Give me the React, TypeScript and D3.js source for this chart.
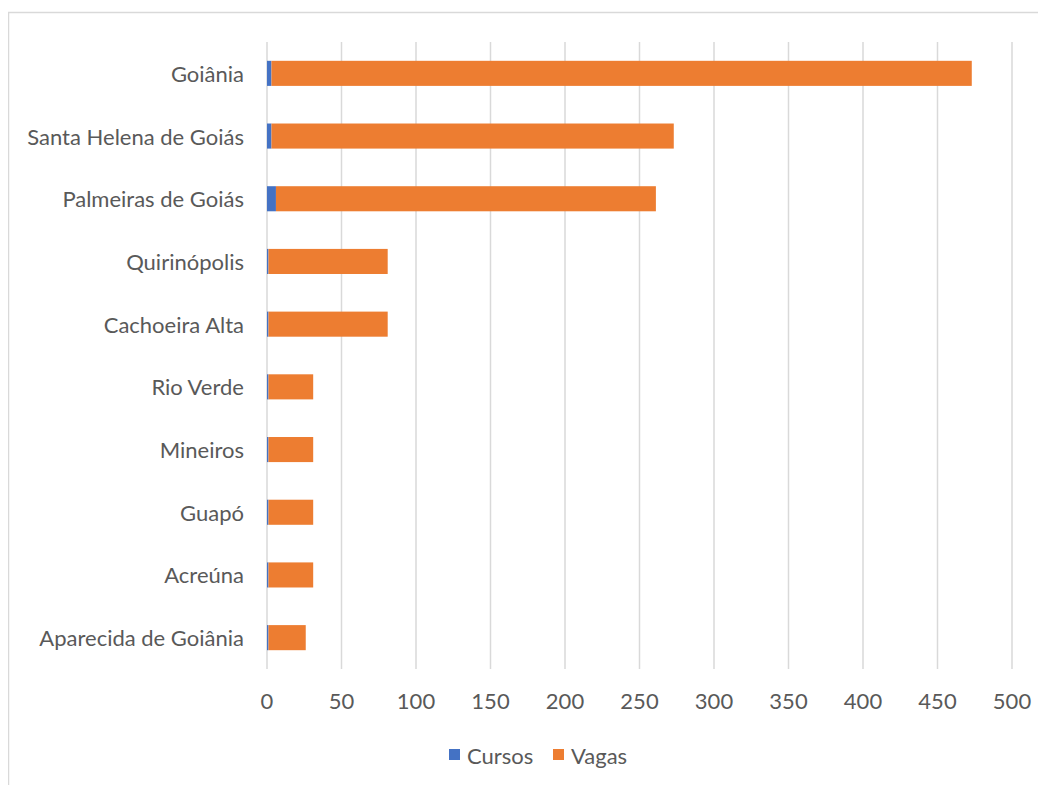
import React from "react";
import * as d3 from "d3";

const categories = [
  "Goiânia",
  "Santa Helena de Goiás",
  "Palmeiras de Goiás",
  "Quirinópolis",
  "Cachoeira Alta",
  "Rio Verde",
  "Mineiros",
  "Guapó",
  "Acreúna",
  "Aparecida de Goiânia",
];
const cursos = [3, 3, 6, 1, 1, 1, 1, 1, 1, 1];
const vagas = [470, 270, 255, 80, 80, 30, 30, 30, 30, 25];
const xTicks = [0, 50, 100, 150, 200, 250, 300, 350, 400, 450, 500];
const seriesNames = ["Cursos", "Vagas"];
const colors = ["#4472C4", "#ED7D31"];

const FONT = "Lato, 'Open Sans', sans-serif";
const FS = 22;

export default function App() {
  const W = 1038;
  const H = 777;
  const left = 259;
  const right = 1004;
  const top = 34;
  const bottom = 661;

  const x = d3.scaleLinear().domain([0, 500]).range([left, right]);
  const y = d3
    .scaleBand<string>()
    .domain(categories)
    .range([top, bottom])
    .paddingInner(0.6)
    .paddingOuter(0.3);

  const stackData = categories.map((c, i) => ({ cat: c, Cursos: cursos[i], Vagas: vagas[i] }));
  const stack = d3.stack<any>().keys(seriesNames)(stackData);

  return (
    <svg width={W} height={H} style={{ display: "block" }} fontFamily={FONT}>
      <rect x={0.5} y={4.5} width={W + 10} height={H + 10} fill="#fff" stroke="#d9d9d9" strokeWidth={1.5} />
      {xTicks.map((t) => (
        <line key={t} x1={x(t)} x2={x(t)} y1={top} y2={bottom} stroke="#d9d9d9" strokeWidth={1.5} />
      ))}
      {stack.map((s, si) =>
        s.map((d, i) => (
          <rect
            key={si + "-" + i}
            x={x(d[0])}
            y={y(categories[i])}
            width={x(d[1]) - x(d[0])}
            height={y.bandwidth()}
            fill={colors[si]}
          />
        ))
      )}
      {categories.map((c) => (
        <text
          key={c}
          x={236}
          y={(y(c) as number) + y.bandwidth() / 2}
          textAnchor="end"
          dominantBaseline="central"
          fontSize={FS}
          fill="#595959"
        >
          {c}
        </text>
      ))}
      {xTicks.map((t) => (
        <text key={t} x={x(t)} y={692} textAnchor="middle" dominantBaseline="central" fontSize={FS} fill="#595959">
          {t}
        </text>
      ))}
      <g>
        <rect x={441} y={741} width={11} height={11} fill={colors[0]} />
        <text x={459} y={747} dominantBaseline="central" fontSize={FS} fill="#595959">
          {seriesNames[0]}
        </text>
        <rect x={545} y={741} width={11} height={11} fill={colors[1]} />
        <text x={563} y={747} dominantBaseline="central" fontSize={FS} fill="#595959">
          {seriesNames[1]}
        </text>
      </g>
    </svg>
  );
}
